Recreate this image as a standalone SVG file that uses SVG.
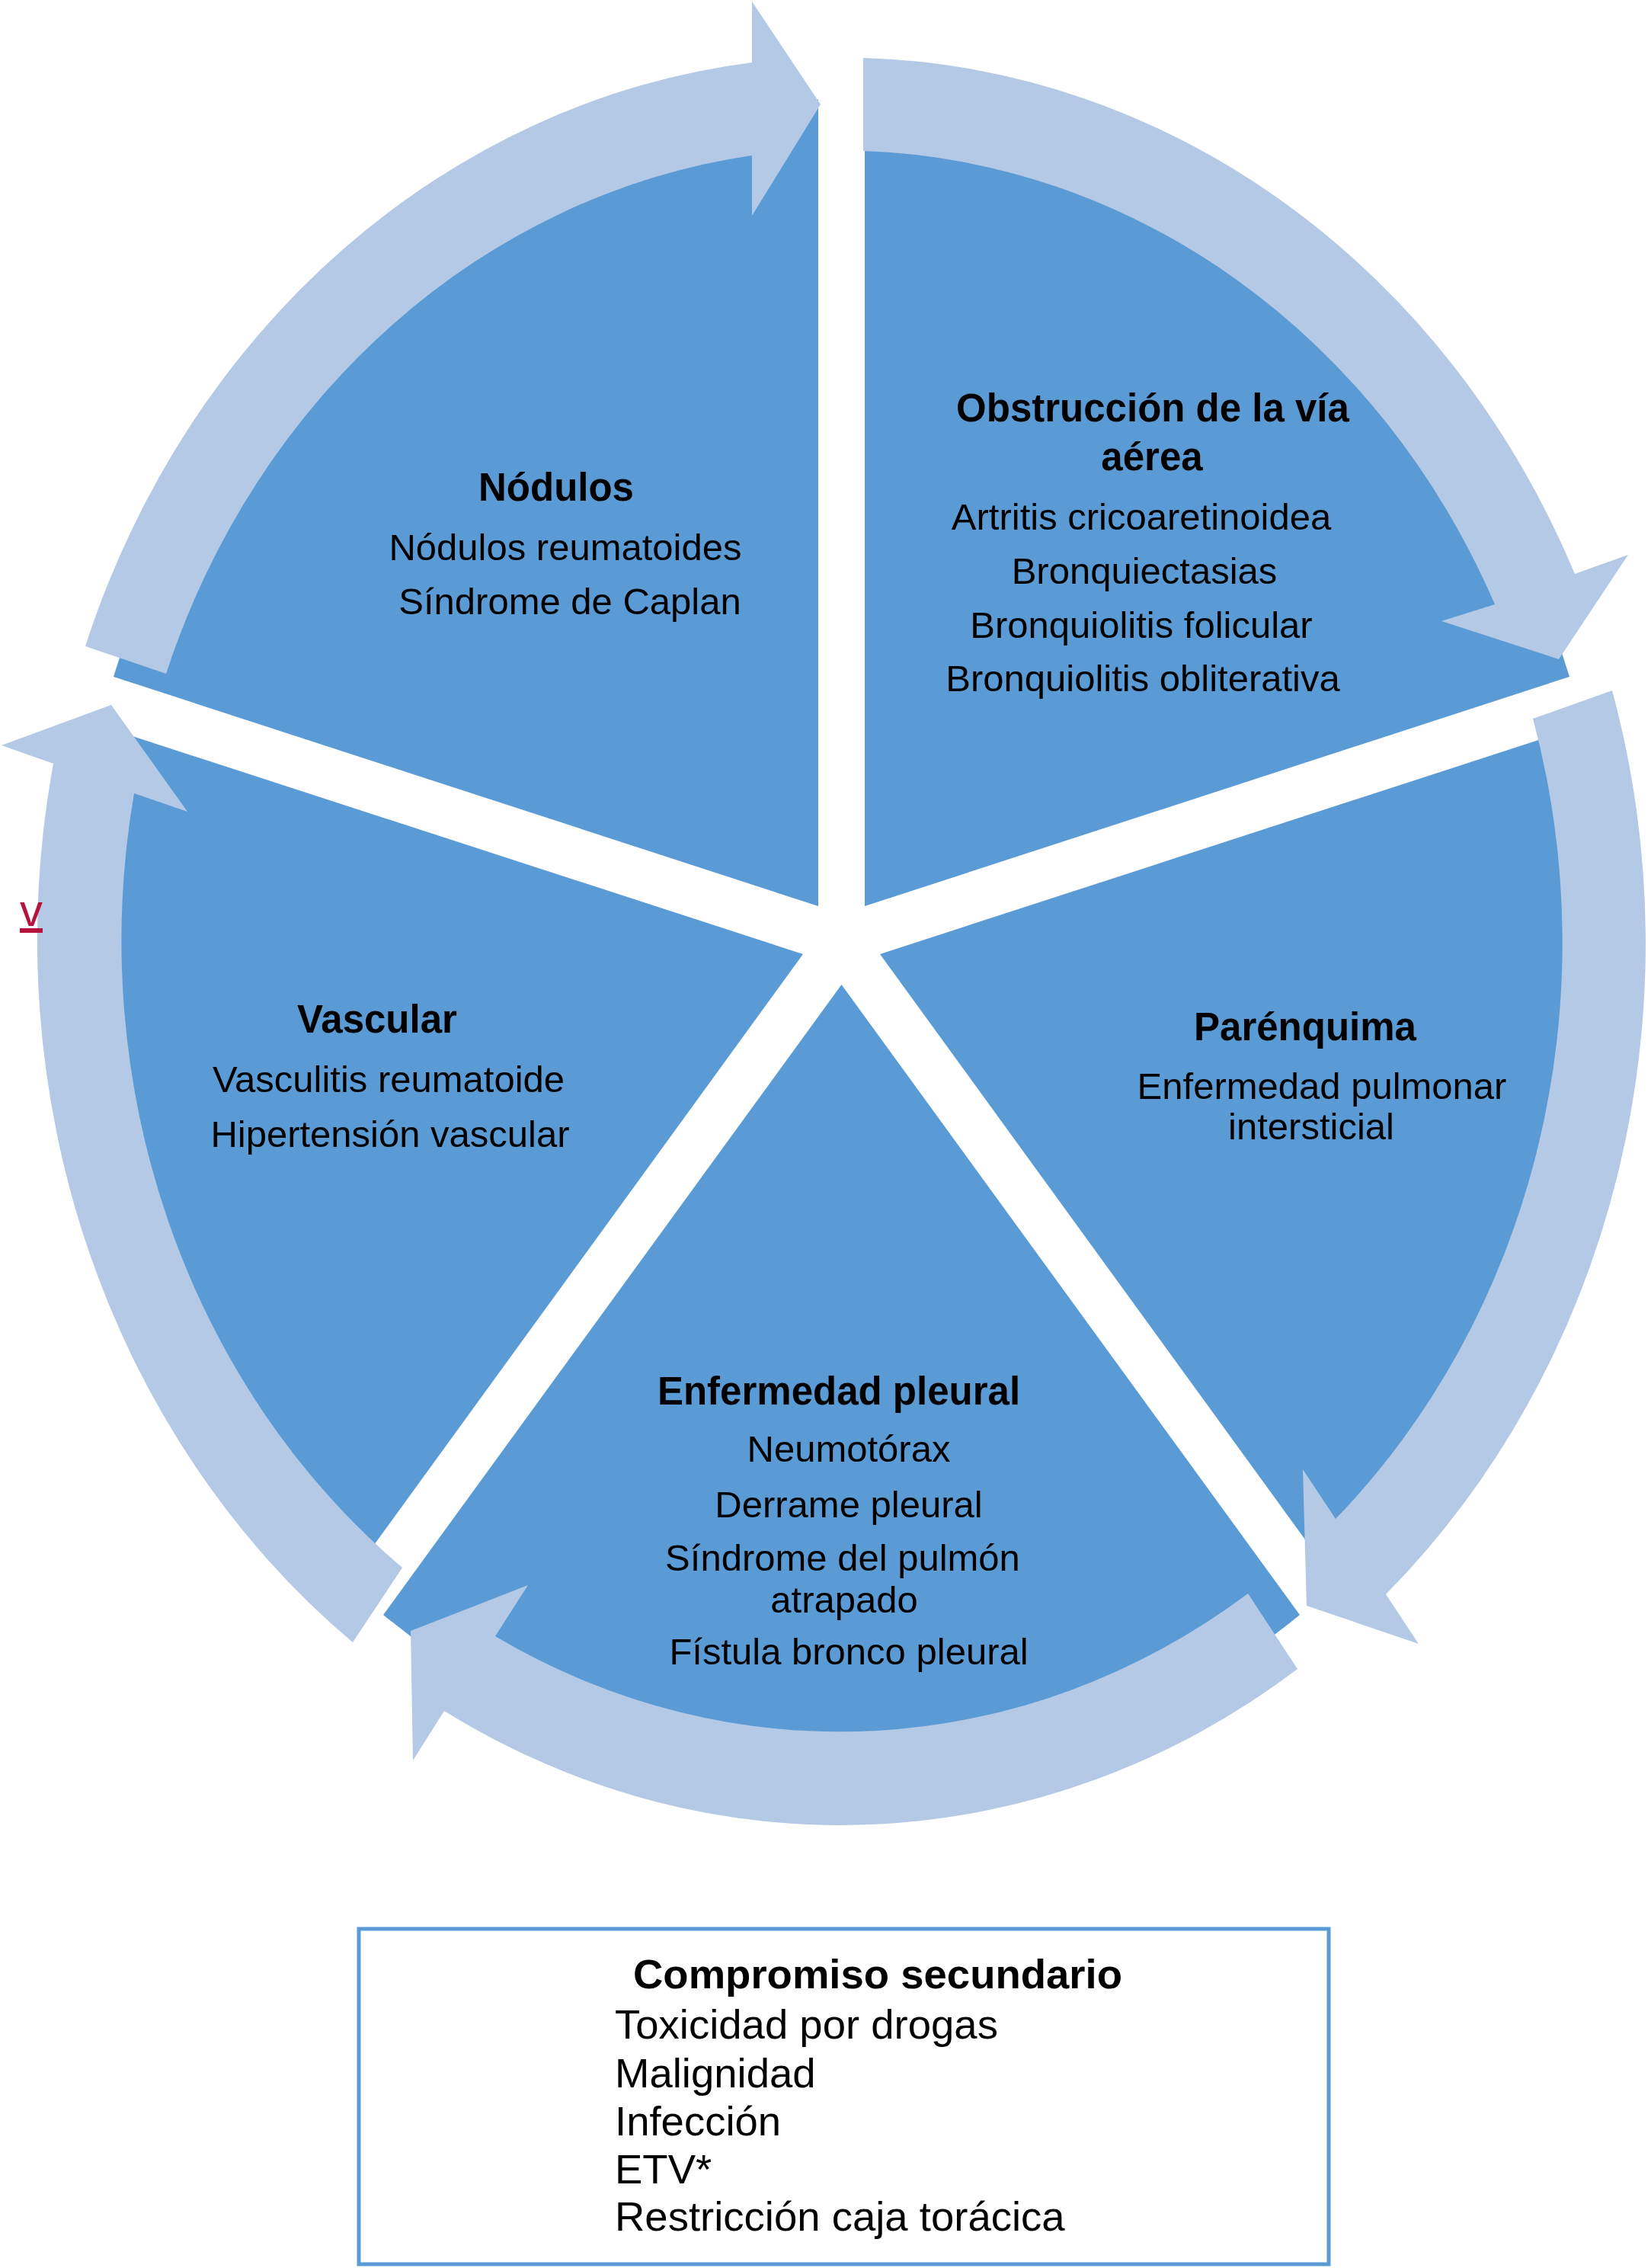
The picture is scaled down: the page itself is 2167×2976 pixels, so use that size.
<svg xmlns="http://www.w3.org/2000/svg" width="2167" height="2976" viewBox="0 0 2167 2976">
<style>
.sector{fill:#5B9BD5}
.arrow{fill:#B4C9E5}
.t{font-family:"Liberation Sans",Arial,Helvetica,sans-serif;font-size:49px;fill:#000;text-anchor:middle}
.b{font-weight:bold;font-size:51px}
.box{fill:#fff;stroke:#5B9BD5;stroke-width:5}
.bt{font-family:"Liberation Sans",Arial,Helvetica,sans-serif;font-size:54.5px;fill:#000}
</style>
<rect width="2167" height="2976" fill="#fff"/>
<g id="node-nodulos">
<path class="sector" d="M1074,1189 L1074,130.5 A1007,1105 0 0 0 149,888 Z"/>
<text class="t b" x="730" y="657">Nódulos</text>
<text class="t" x="742" y="735">Nódulos reumatoides</text>
<text class="t" x="748" y="806">Síndrome de Caplan</text>
</g>
<g id="node-obstruccion">
<path class="sector" d="M1135,1189 L1135,130.5 A1007,1105 0 0 1 2060,888 Z"/>
<text class="t b" x="1513" y="553">Obstrucción de la vía</text>
<text class="t b" x="1512" y="617">aérea</text>
<text class="t" x="1498" y="695">Artritis cricoaretinoidea</text>
<text class="t" x="1502" y="766">Bronquiectasias</text>
<text class="t" x="1498" y="837">Bronquiolitis folicular</text>
<text class="t" x="1500" y="907">Bronquiolitis obliterativa</text>
</g>
<g id="node-parenquima">
<path class="sector" d="M1155,1252 L2078,952 A1007,1105 0 0 1 1755,2078 Z"/>
<text class="t b" x="1713" y="1365">Parénquima</text>
<text class="t" x="1735" y="1442">Enfermedad pulmonar</text>
<text class="t" x="1721" y="1495">intersticial</text>
</g>
<g id="node-pleural">
<path class="sector" d="M1104.5,1292 L1706,2119 A1007,1105 0 0 1 503,2119 Z"/>
<text class="t b" x="1101" y="1843">Enfermedad pleural</text>
<text class="t" x="1114" y="1918">Neumotórax</text>
<text class="t" x="1114" y="1991">Derrame pleural</text>
<text class="t" x="1106" y="2061">Síndrome del pulmón</text>
<text class="t" x="1108" y="2116">atrapado</text>
<text class="t" x="1114" y="2184">Fístula bronco pleural</text>
</g>
<g id="node-vascular">
<path class="sector" d="M1054,1252 L454,2078 A1007,1105 0 0 1 131,952 Z"/>
<text class="t b" x="495" y="1355">Vascular</text>
<text class="t" x="510" y="1433">Vasculitis reumatoide</text>
<text class="t" x="512" y="1505">Hipertensión vascular</text>
</g>
<g id="connectors">
<path class="arrow" d="M112,848 A1058,1162 0 0 1 987,82 L987,2 L1077,137 L987,283 L987,204 A950,1040 0 0 0 218,884 Z"/>
<path class="arrow" d="M1133,76 A1058,1162 0 0 1 2067,753 L2137,728 L2046,865 L1892,815 L1962,793 A950,1040 0 0 0 1133,198 Z"/>
<path class="arrow" d="M2116,906 A1058,1162 0 0 1 1819,2092 L1862,2157 L1715,2107 L1710,1928 L1753,1993 A950,1040 0 0 0 2012,943 Z"/>
<path class="arrow" d="M1703,2190 A1058,1162 0 0 1 583,2245 L542,2310 L539,2140 L693,2080 L650,2147 A950,1040 0 0 0 1638,2091 Z"/>
<path class="arrow" d="M463,2155 A1058,1162 0 0 1 70,1002 L2,978 L146,925 L246,1065 L176,1041 A950,1040 0 0 0 528,2057 Z"/>
</g>
<g id="mark-v">
<text x="41" y="1215" font-family="Liberation Sans, Arial, sans-serif" font-size="60" fill="#B5123C" text-anchor="middle" text-decoration="underline">v</text>
</g>
<g id="node-secundario">
<rect class="box" x="471" y="2531" width="1273" height="440"/>
<text class="bt" x="1152" y="2609" font-weight="bold" text-anchor="middle">Compromiso secundario</text>
<text class="bt" x="807" y="2675">Toxicidad por drogas</text>
<text class="bt" x="807" y="2739">Malignidad</text>
<text class="bt" x="807" y="2802">Infección</text>
<text class="bt" x="807" y="2865">ETV*</text>
<text class="bt" x="807" y="2927">Restricción caja torácica</text>
</g>
</svg>
